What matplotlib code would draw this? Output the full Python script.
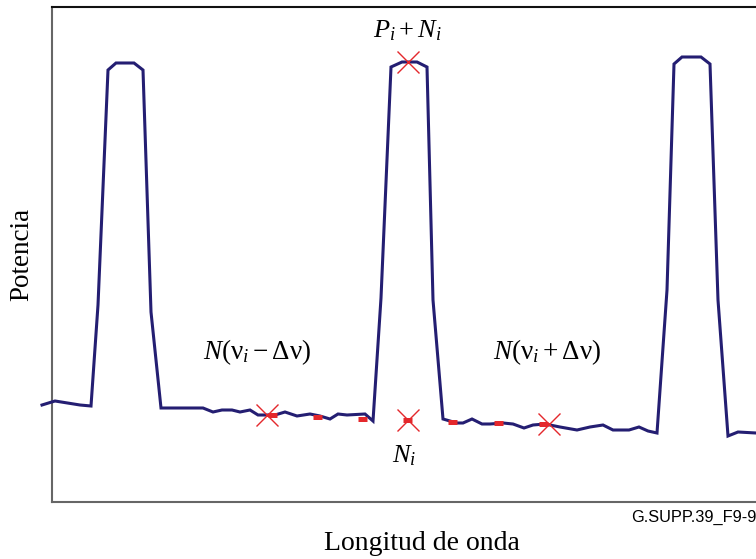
import matplotlib.pyplot as plt

plt.rcParams['mathtext.fontset'] = 'custom'
plt.rcParams['mathtext.rm'] = 'Liberation Serif'
plt.rcParams['mathtext.it'] = 'Liberation Serif:italic'

# espectro: longitud de onda (eje x) y potencia (eje y), en unidades arbitrarias
longitud = [-10, 3, 28, 39, 46, 56, 64, 82, 91, 99, 109, 151, 161, 170, 180, 188,
            198, 206, 223, 233, 245, 258, 268, 278, 286, 295, 313, 321, 329, 339,
            350, 365, 375, 381, 391, 405, 411, 420, 430, 438, 451, 461, 472, 481,
            493, 508, 525, 538, 551, 561, 577, 587, 596, 605, 615, 622, 630, 649,
            658, 666, 676, 686, 704]
potencia = [97, 101, 97, 96, 197, 432, 439, 439, 432, 190, 94, 94, 90, 92, 92, 90,
            92, 87, 87, 90, 86, 88, 86, 83, 88, 87, 88, 81, 204, 435, 440, 440,
            435, 202, 83, 79, 79, 83, 78, 78, 79, 78, 74, 77, 78, 75, 72, 75, 77,
            72, 72, 75, 71, 69, 212, 438, 445, 445, 438, 202, 66, 70, 69]

# puntos de medida (cruces) y muestras de ruido (trazos)
cruces_x = [215, 356, 356, 497]
cruces_y = [87, 440, 82, 78]
trazos_x = [220, 265, 310, 355, 400, 446, 491]
trazos_y = [87, 85, 83, 82, 80, 79, 78]
medio_trazo = 4.5

azul = '#241e72'
rojo = '#e4282c'

fig = plt.figure(figsize=(7.56, 5.59), dpi=100)
ax = fig.add_axes([52 / 756, 57 / 559, 704 / 756, 495 / 559])
ax.set_xlim(0, 704)
ax.set_ylim(0, 495)

ax.plot(longitud, potencia, color=azul, linewidth=2.2, clip_on=False,
        solid_joinstyle='miter', zorder=3)

for x, y in zip(trazos_x, trazos_y):
    ax.plot([x - medio_trazo, x + medio_trazo], [y, y], color=rojo,
            linewidth=3.6, solid_capstyle='butt', zorder=4)
ax.plot(cruces_x, cruces_y, linestyle='none', marker='x', markersize=16,
        markeredgewidth=1.0, color=rojo, zorder=5)

ax.text(355, 472, r'$P_i + N_i$', fontsize=19, ha='center', va='center')
ax.text(205, 150, r'$N(\mathrm{ν}_i - \Delta\mathrm{ν})$', fontsize=19.5,
        ha='center', va='center')
ax.text(495, 150, r'$N(\mathrm{ν}_i + \Delta\mathrm{ν})$', fontsize=19.5,
        ha='center', va='center')
ax.text(352, 47, r'$N_i$', fontsize=19, ha='center', va='center')

ax.set_xticks([])
ax.set_yticks([])
ax.spines['right'].set_visible(False)
ax.spines['top'].set_color('#111111')
ax.spines['top'].set_linewidth(1.5)
for lado in ['left', 'bottom']:
    ax.spines[lado].set_color('#666666')
    ax.spines[lado].set_linewidth(1.5)

fig.text(22 / 756, 1 - 254 / 559, 'Potencia', rotation=90, fontsize=19.5,
         family='Liberation Serif', ha='center', va='center')
fig.text(422 / 756, 1 - 543 / 559, 'Longitud de onda', fontsize=20,
         family='Liberation Serif', ha='center', va='center')
fig.text(1.0, 1 - 517 / 559, 'G.SUPP.39_F9-9', fontsize=11.8,
         family='Liberation Sans', ha='right', va='center')

fig.savefig('out.png', dpi=100)
